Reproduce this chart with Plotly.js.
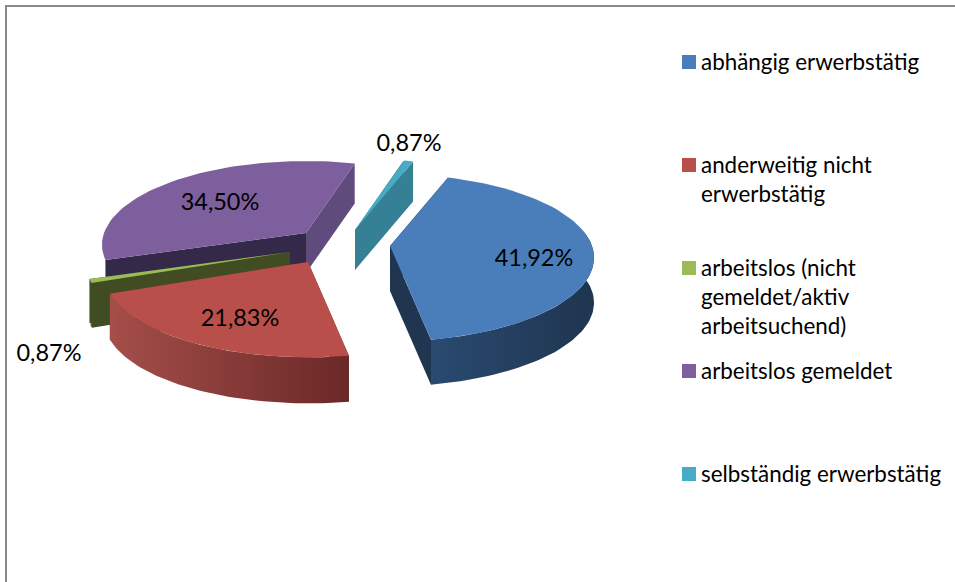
<!DOCTYPE html>
<html><head><meta charset="utf-8">
<script src="https://cdn.plot.ly/plotly-3.0.1.min.js"></script>
<style>html,body{margin:0;padding:0;background:#fff}#c{width:955px;height:582px}</style>
</head><body><div id="c"></div>
<script>
// Data
const categories = ["abhängig erwerbstätig","anderweitig nicht erwerbstätig","arbeitslos (nicht gemeldet/aktiv arbeitsuchend)","arbeitslos gemeldet","selbständig erwerbstätig"];
const values = [41.92, 21.83, 0.87, 34.50, 0.87];
const legendLines = [["abhängig erwerbstätig"],["anderweitig nicht","erwerbstätig"],["arbeitslos (nicht","gemeldet/aktiv","arbeitsuchend)"],["arbeitslos gemeldet"],["selbständig erwerbstätig"]];

// Style and placement
const topColors = ["#4a7ebb","#b94f4a","#9bbb59","#7d5f9e","#47abc6"];
const startWall = ["#1f3550","#7a2f2c","#414c22","#35294a","#368095"];
const endWall   = ["#1f3550","#7a2f2c","#414c22","#5f4b7c","#368095"];
const wallGrad  = [["#2a4a70","#1f3550"],["#a54e4a","#6a2927"],["#414c22","#414c22"],["#5f4b7c","#5f4b7c"],["#368095","#368095"]];
const apexX = [390,308,290,306,355];
const apexY = [246,262,252,233,230];
const depth = [45,46,44,40,40];
const labelX = [534,240,49,220,409];
const labelY = [260,320,355,204,145];
const legendY = [62,165,268,371,474];
const drawOrder = [3,4,2,1,0];
const START = 19, RX = 202, RY = 82, PERSP = 0.14, N = 60;
const FONT = "Lato, 'Open Sans', sans-serif", FS_LABEL = 23.5, FS_LEGEND = 22.4;

function pt(i, deg, dz){
  const t = deg*Math.PI/180, u = Math.sin(t), v = -Math.cos(t), s = 1/(1-PERSP*v);
  return [apexX[i]+RX*u*s, apexY[i]+RY*v*s+dz];
}
function arc(i,a,b,dz){
  const o=[]; for(let k=0;k<=N;k++) o.push(pt(i,a+(b-a)*k/N,dz)); return o;
}
function poly(points,color,grad){
  const t={type:"scatter",mode:"lines",x:points.map(p=>p[0]),y:points.map(p=>p[1]),
    fill:"toself",line:{width:0,color:color},showlegend:false,hoverinfo:"skip"};
  if(grad) t.fillgradient={type:"horizontal",colorscale:[[0,grad[0]],[1,grad[1]]]};
  else t.fillcolor=color;
  return t;
}
const total = values.reduce((a,b)=>a+b,0);
let acc = START; const spans = values.map(v=>{const s=[acc,acc+v/total*360]; acc=s[1]; return s;});

const traces=[];
drawOrder.forEach(i=>{
  const [a,b]=spans[i], d=depth[i], A=[apexX[i],apexY[i]], Ad=[apexX[i],apexY[i]+d];
  const pa=pt(i,a,0), pad=pt(i,a,d), pb=pt(i,b,0), pbd=pt(i,b,d);
  traces.push(poly([A,pa,pad,Ad,A],startWall[i]));
  traces.push(poly([A,pb,pbd,Ad,A],endWall[i]));
  const wa=Math.max(a,80), wb=Math.min(b,250);
  if(wb>wa) traces.push(poly(arc(i,wa,wb,0).concat(arc(i,wb,wa,d)),endWall[i],wallGrad[i]));
  const top=poly([A].concat(arc(i,a,b,0)).concat([A]),topColors[i]);
  top.name=categories[i];
  traces.push(top);
});

// Percentage labels
traces.push({type:"scatter",mode:"text",x:labelX,y:labelY,
  text:values.map(v=>v.toFixed(2).replace(".",",")+"%"),
  textposition:"middle center",textfont:{family:FONT,size:FS_LABEL,color:"#000"},showlegend:false,hoverinfo:"skip"});

// Legend
const LINE=29;
categories.forEach((c,i)=>{
  traces.push({type:"scatter",mode:"markers",x:[689],y:[legendY[i]],name:c,
    marker:{symbol:"square",size:14,color:topColors[i],line:{width:0}},showlegend:false,hoverinfo:"name"});
  traces.push({type:"scatter",mode:"text",x:legendLines[i].map(()=>701),y:legendLines[i].map((_,k)=>legendY[i]+2+k*LINE),
    text:legendLines[i],textposition:"middle right",textfont:{family:FONT,size:FS_LEGEND,color:"#000"},showlegend:false,hoverinfo:"skip"});
});

Plotly.newPlot("c",traces,{
  width:955,height:582,margin:{l:0,r:0,t:0,b:0},paper_bgcolor:"#fff",plot_bgcolor:"#fff",showlegend:false,
  xaxis:{range:[0,955],visible:false,fixedrange:true},
  yaxis:{range:[582,0],visible:false,fixedrange:true},
  shapes:[
    {type:"line",x0:5,x1:955,y0:6,y1:6,line:{color:"#8a8a8a",width:2}},
    {type:"line",x0:6,x1:6,y0:5,y1:582,line:{color:"#8a8a8a",width:2}}
  ]
},{displayModeBar:false,staticPlot:true});
</script></body></html>
